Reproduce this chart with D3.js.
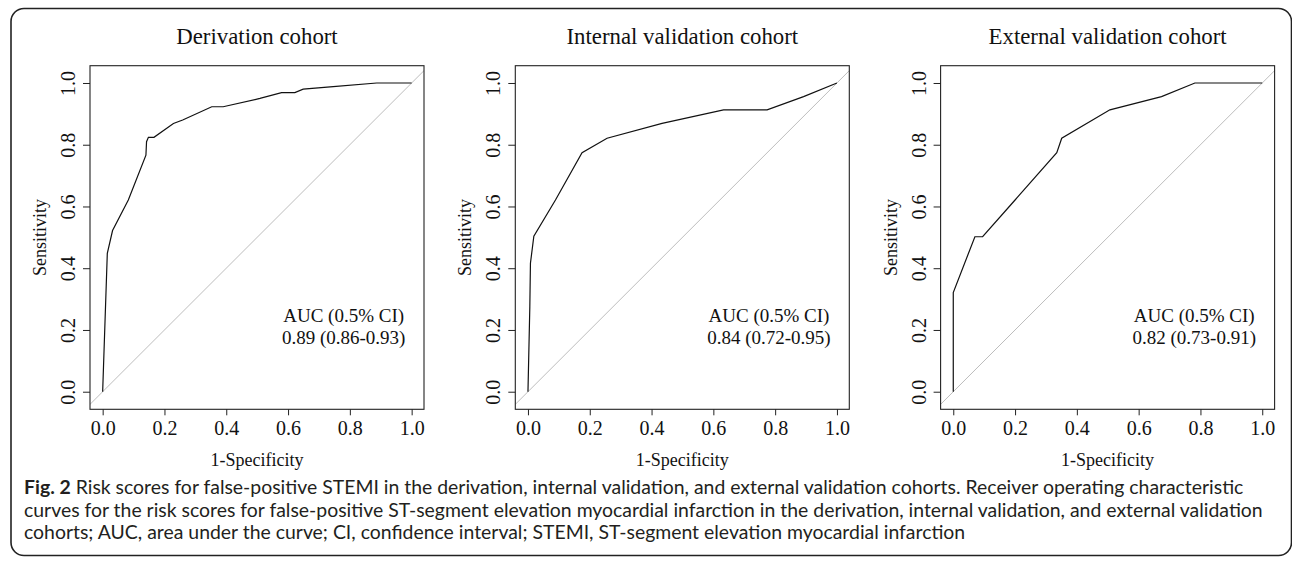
<!DOCTYPE html>
<html>
<head>
<meta charset="utf-8">
<script src="https://cdn.jsdelivr.net/npm/d3@7"></script>
<style>
  body { margin: 0; background: #fff; }
  svg { display: block; }
  .serif { font-family: "Liberation Serif", "Times New Roman", serif; fill: #111; }
  .cap { font-family: Lato, "Open Sans", sans-serif; fill: #231f20; }
</style>
</head>
<body>
<div class="chart"></div>
<script>

// panel titles and AUC text
var titles = ["Derivation cohort", "Internal validation cohort", "External validation cohort"];
var aucLabels = ["0.89 (0.86-0.93)", "0.84 (0.72-0.95)", "0.82 (0.73-0.91)"];
var tickValues = [0, 0.2, 0.4, 0.6, 0.8, 1.0];

// ROC points: 1-specificity / sensitivity
var derivFpr  = [0, 0.015, 0.032, 0.083, 0.14, 0.142, 0.148, 0.166, 0.229, 0.259, 0.353, 0.39, 0.509, 0.579, 0.622, 0.649, 0.746, 0.887, 1.0];
var derivSens = [0, 0.448, 0.522, 0.621, 0.766, 0.81, 0.824, 0.824, 0.869, 0.88, 0.923, 0.923, 0.95, 0.969, 0.969, 0.98, 0.988, 1.0, 1.0];

var intFpr  = [0, 0.006, 0.008, 0.019, 0.089, 0.175, 0.256, 0.434, 0.633, 0.774, 0.892, 1.0];
var intSens = [0, 0.275, 0.416, 0.504, 0.621, 0.774, 0.821, 0.869, 0.913, 0.913, 0.956, 1.0];

var extFpr  = [0, 0, 0.07, 0.095, 0.2, 0.335, 0.351, 0.507, 0.674, 0.782, 1.0];
var extSens = [0, 0.321, 0.502, 0.502, 0.621, 0.774, 0.821, 0.913, 0.956, 1.0, 1.0];

var captionLines = [
  "Risk scores for false-positive STEMI in the derivation, internal validation, and external validation cohorts. Receiver operating characteristic",
  "curves for the risk scores for false-positive ST-segment elevation myocardial infarction in the derivation, internal validation, and external validation",
  "cohorts; AUC, area under the curve; CI, confidence interval; STEMI, ST-segment elevation myocardial infarction"
];

var curves = [
  d3.zip(derivFpr, derivSens),
  d3.zip(intFpr, intSens),
  d3.zip(extFpr, extSens)
];

var W = 1292, H = 563;
var svg = d3.select(".chart").append("svg")
    .attr("width", W)
    .attr("height", H);

// rounded frame round the figure
svg.append("rect")
    .attr("x", 11).attr("y", 8.5)
    .attr("width", 1280.5).attr("height", 547)
    .attr("rx", 13)
    .attr("fill", "none")
    .attr("stroke", "#222")
    .attr("stroke-width", 1.6);

var boxW = 334, boxTop = 65.7, boxBottom = 409.3;

curves.forEach(function(pts, i) {
  var left = 90 + i * 425.3;

  var x = d3.scaleLinear().domain([-0.041, 1.04]).range([left, left + boxW]);
  var y = d3.scaleLinear().domain([-0.057, 1.056]).range([boxBottom, boxTop]);

  var g = svg.append("g");

  // chance line
  g.append("line")
      .attr("x1", x(-0.041)).attr("y1", y(-0.041))
      .attr("x2", x(1.04)).attr("y2", y(1.04))
      .attr("stroke", "#bdbdbd")
      .attr("stroke-width", 1);

  var line = d3.line()
      .x(function(d) { return x(d[0]); })
      .y(function(d) { return y(d[1]); });

  g.append("path")
      .datum(pts)
      .attr("d", line)
      .attr("fill", "none")
      .attr("stroke", "#111")
      .attr("stroke-width", 1.2);

  // box
  g.append("rect")
      .attr("x", left).attr("y", boxTop)
      .attr("width", boxW).attr("height", boxBottom - boxTop)
      .attr("fill", "none")
      .attr("stroke", "#222")
      .attr("stroke-width", 1.1);

  var xAxis = g.append("g")
      .attr("transform", "translate(0," + boxBottom + ")")
      .call(d3.axisBottom(x).tickValues(tickValues).tickSize(6).tickFormat(d3.format(".1f")));
  xAxis.select(".domain").remove();
  xAxis.selectAll("line").attr("stroke", "#222");
  xAxis.selectAll("text")
      .attr("class", "serif")
      .attr("y", 0).attr("dy", 0)
      .attr("transform", "translate(0,26)")
      .style("font-size", "20px")
      .attr("fill", "#111");

  var yAxis = g.append("g")
      .attr("transform", "translate(" + left + ",0)")
      .call(d3.axisLeft(y).tickValues(tickValues).tickSize(7).tickFormat(d3.format(".1f")));
  yAxis.select(".domain").remove();
  yAxis.selectAll("line").attr("stroke", "#222");
  yAxis.selectAll("text")
      .attr("class", "serif")
      .attr("x", 0).attr("dy", 0)
      .attr("text-anchor", "middle")
      .attr("transform", "translate(-15,0) rotate(-90)")
      .style("font-size", "20px")
      .attr("fill", "#111");

  g.append("text")
      .attr("class", "serif")
      .attr("x", left + boxW / 2)
      .attr("y", 44)
      .attr("text-anchor", "middle")
      .style("font-size", "22.8px")
      .text(titles[i]);

  g.append("text")
      .attr("class", "serif")
      .attr("x", left + boxW / 2)
      .attr("y", 466)
      .attr("text-anchor", "middle")
      .style("font-size", "18px")
      .text("1-Specificity");

  g.append("text")
      .attr("class", "serif")
      .attr("transform", "translate(" + (left - 44) + "," + ((boxTop + boxBottom) / 2) + ") rotate(-90)")
      .attr("text-anchor", "middle")
      .style("font-size", "18px")
      .text("Sensitivity");

  g.append("text")
      .attr("class", "serif")
      .attr("x", x(0.78)).attr("y", y(0.25) + 7)
      .attr("text-anchor", "middle")
      .style("font-size", "19px")
      .text("AUC (0.5% CI)");

  g.append("text")
      .attr("class", "serif")
      .attr("x", x(0.78)).attr("y", y(0.176) + 7)
      .attr("text-anchor", "middle")
      .style("font-size", "19px")
      .text(aucLabels[i]);
});

// caption
var cap = svg.append("g");
captionLines.forEach(function(t, i) {
  var txt = cap.append("text")
      .attr("class", "cap")
      .attr("x", 24)
      .attr("y", 494 + i * 22.5)
      .style("font-size", "16px");
  if (i == 0) {
    txt.append("tspan").style("font-weight", "bold").text("Fig. 2");
    txt.append("tspan").text(" " + t);
  } else {
    txt.text(t);
  }
});

// fit caption to the width of the second line
var target = 1263 - 24;
var nodes = cap.selectAll("text").nodes();
var len = nodes[1].getComputedTextLength();
var fs = 16 * target / len;
cap.selectAll("text").style("font-size", fs + "px");

</script>
</body>
</html>
